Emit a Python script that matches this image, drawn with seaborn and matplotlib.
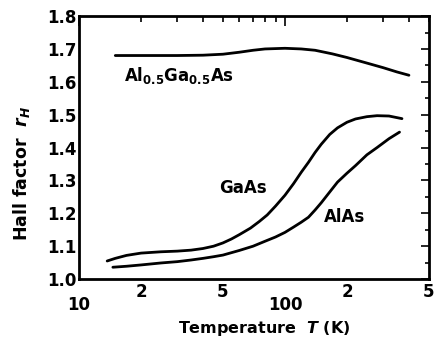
import numpy as np
import pandas as pd
import matplotlib
matplotlib.use("Agg")
import matplotlib.pyplot as plt
from matplotlib.ticker import FixedLocator, FuncFormatter
import seaborn as sns

# Hall factor r_H versus temperature for three III-V compounds
t_algaas = [15, 20, 25, 30, 40, 50, 60, 70, 80, 100, 120, 140, 170, 200,
            250, 300, 350, 400]
r_algaas = [1.680, 1.680, 1.680, 1.680, 1.681, 1.684, 1.690, 1.696, 1.700,
            1.702, 1.700, 1.696, 1.685, 1.674, 1.657, 1.643, 1.630, 1.620]

t_gaas = [13.7, 15, 17, 20, 25, 30, 35, 40, 45, 50, 55, 60, 68, 75, 82, 90,
          100, 110, 120, 130, 140, 150, 165, 180, 200, 220, 250, 280, 320, 370]
r_gaas = [1.055, 1.063, 1.072, 1.079, 1.083, 1.085, 1.088, 1.093, 1.100,
          1.110, 1.122, 1.135, 1.155, 1.175, 1.195, 1.222, 1.255, 1.290,
          1.325, 1.355, 1.385, 1.410, 1.440, 1.460, 1.477, 1.487, 1.494,
          1.497, 1.496, 1.488]

t_alas = [14.6, 17, 20, 25, 30, 35, 40, 45, 50, 60, 70, 80, 90, 100, 110,
          120, 130, 140, 150, 165, 180, 200, 220, 250, 280, 320, 360]
r_alas = [1.036, 1.039, 1.043, 1.049, 1.053, 1.058, 1.063, 1.068, 1.073,
          1.087, 1.100, 1.115, 1.128, 1.142, 1.158, 1.173, 1.188, 1.210,
          1.232, 1.265, 1.295, 1.322, 1.345, 1.378, 1.400, 1.427, 1.447]

series_names = ["Al0.5Ga0.5As", "GaAs", "AlAs"]
y_ticks = [1.0, 1.1, 1.2, 1.3, 1.4, 1.5, 1.6, 1.7, 1.8]
x_major = [10, 100]
x_minor_labels = {20: "2", 50: "5", 200: "2", 500: "5"}

df = pd.concat([
    pd.DataFrame({"T": t_algaas, "r": r_algaas, "material": series_names[0]}),
    pd.DataFrame({"T": t_gaas, "r": r_gaas, "material": series_names[1]}),
    pd.DataFrame({"T": t_alas, "r": r_alas, "material": series_names[2]}),
])

sns.set_theme(style="white")
plt.rcParams["font.family"] = ["DejaVu Sans"]
plt.rcParams["font.weight"] = "bold"
plt.rcParams["text.color"] = "black"
plt.rcParams["axes.labelcolor"] = "black"

fig = plt.figure(figsize=(4.39, 3.42), dpi=100)
ax = fig.add_axes([0.18, 0.184, 0.797, 0.769])

sns.lineplot(data=df, x="T", y="r", units="material", estimator=None,
             color="black", linewidth=2.0, sort=False, ax=ax, legend=False)

ax.set_xscale("log")
ax.set_xlim(10, 500)
ax.set_ylim(1.0, 1.8)

# y ticks
ax.yaxis.set_major_locator(FixedLocator(y_ticks))
ax.yaxis.set_minor_locator(FixedLocator(np.arange(1.05, 1.8, 0.1)))
ax.yaxis.set_major_formatter(FuncFormatter(lambda v, p: f"{v:.1f}"))

# x ticks: decades placed lower, intermediate values as single digits
ax.xaxis.set_major_locator(FixedLocator(x_major))
ax.xaxis.set_major_formatter(FuncFormatter(lambda v, p: f"{v:.0f}"))
minor_pos = [m * d for d in (10, 100) for m in range(2, 10) if m * d <= 500]
ax.xaxis.set_minor_locator(FixedLocator(minor_pos))
ax.xaxis.set_minor_formatter(
    FuncFormatter(lambda v, p: x_minor_labels.get(int(round(v)), "")))

ax.tick_params(axis="both", which="both", direction="in", colors="black",
               top=True, right=True, width=1.2, labelsize=12,
               labelfontfamily="Liberation Sans Narrow")
ax.tick_params(axis="y", which="major", length=6, pad=2)
ax.tick_params(axis="y", which="minor", length=3)
ax.tick_params(axis="x", which="major", length=7, pad=12)
ax.tick_params(axis="x", which="minor", length=4, pad=3)

for s in ax.spines.values():
    s.set_color("black")
    s.set_linewidth(2.0)

ax.set_xlabel("Temperature  $\\mathit{T}$ (K)", fontsize=11.5, fontweight="bold")
ax.set_ylabel("Hall factor  $\\mathit{r_H}$", fontsize=12.5, fontweight="bold")
ax.yaxis.set_label_coords(-0.135, 0.40)
ax.xaxis.set_label_coords(0.53, -0.15)

ax.text(16.5, 1.618, "Al$_{0.5}$Ga$_{0.5}$As", fontsize=12, fontweight="bold",
        va="center", ha="left")
ax.text(48, 1.277, "GaAs", fontsize=12, fontweight="bold", va="center", ha="left")
ax.text(154, 1.19, "AlAs", fontsize=12, fontweight="bold", va="center", ha="left")

fig.savefig("out.png", dpi=100, facecolor="white")
